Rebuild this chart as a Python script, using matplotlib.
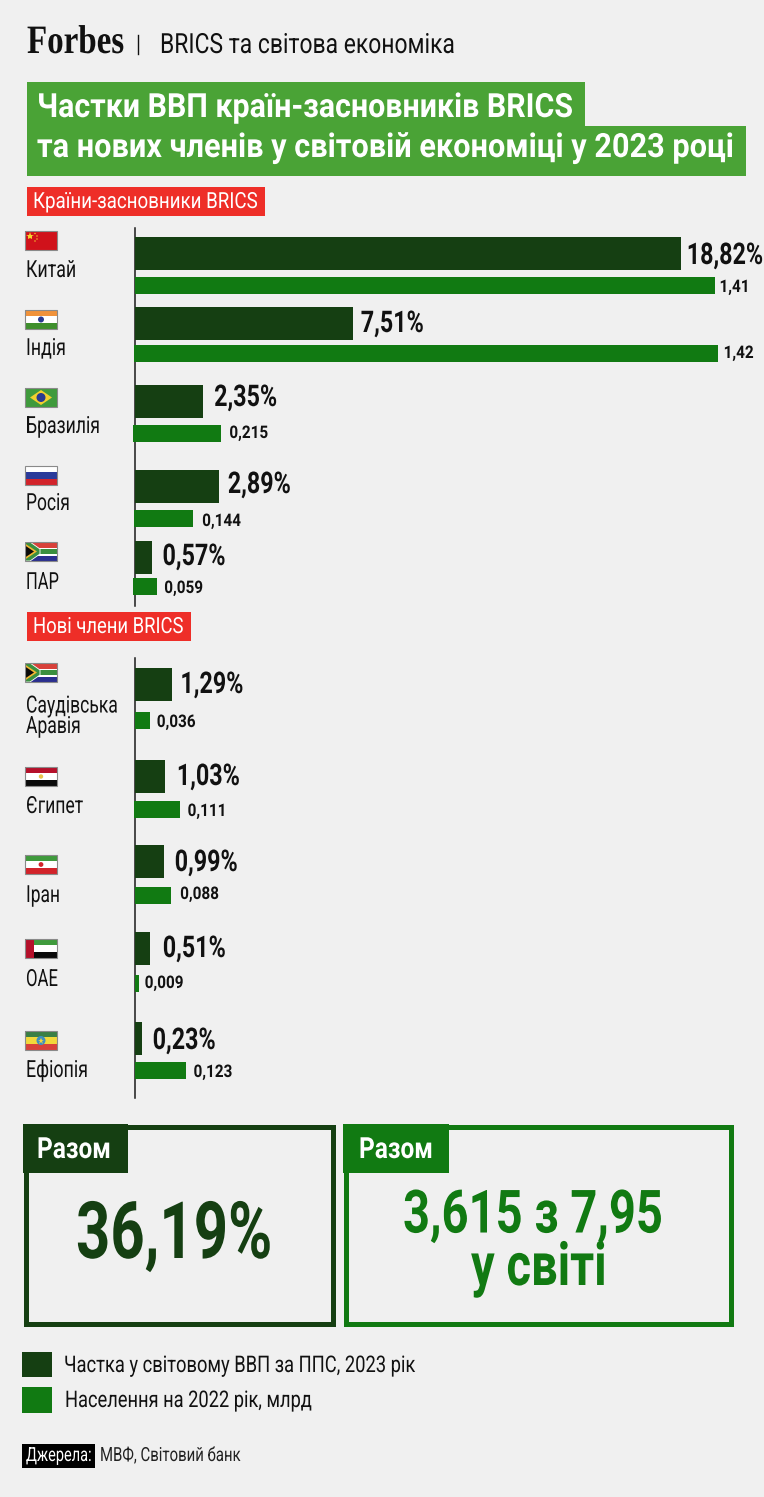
import matplotlib
matplotlib.use('Agg')
import matplotlib.pyplot as plt
import matplotlib.patheffects as pe
from matplotlib.patches import Rectangle, Polygon, Circle
from matplotlib.transforms import Affine2D

plt.rcParams['font.family'] = ['Roboto', 'DejaVu Sans']

# Values
founders = ['Китай', 'Індія', 'Бразилія', 'Росія', 'ПАР']
new_members = ['Саудівська\nАравія', 'Єгипет', 'Іран', 'ОАЕ', 'Ефіопія']
gdp_share = [18.82, 7.51, 2.35, 2.89, 0.57, 1.29, 1.03, 0.99, 0.51, 0.23]
population = [1.41, 1.42, 0.215, 0.144, 0.059, 0.036, 0.111, 0.088, 0.009, 0.123]
population_labels = ['1,41', '1,42', '0,215', '0,144', '0,059', '0,036', '0,111', '0,088', '0,009', '0,123']

# Layout in pixels, one entry per country
dark_top = [237, 307, 385, 470, 541, 668, 760, 845, 932, 1022]
green_top = [277, 345, 425, 510, 578, 712, 801, 887, 975, 1062]
green_nudge = [0, -1, -2, -1, -2, 0, -1, 0, 0, 0]
gdp_label_gap = [6, 8, 11, 9, 11, 8, 12, 11, 13, 11]
gdp_label_y = [264, 332, 406, 493, 565, 693, 785, 871, 957, 1049]
pop_label_gap = [5, 5, 6, 8, 5, 7, 7, 9, 6, 8]
pop_label_y = [292, 358, 438, 526, 593, 727, 816, 899, 988, 1077]
name_y = [277, 355, 433, 510, 589, 733, 813, 902, 986, 1077]
flag_top = [231, 310, 388, 466, 542, 663, 767, 855, 939, 1031]

W, H = 764, 1497
BG = '#f0f0f0'
DARK = '#153f12'
GREEN = '#117a12'
TITLE = '#4aa336'
RED = '#ee2e28'
INK = '#111111'
AXIS_X = 135
GDP_PX = 29
POP_PX = 411

fig = plt.figure(figsize=(W / 100, H / 100), dpi=100, facecolor=BG)
ax = fig.add_axes([0, 0, 1, 1])
ax.set_xlim(0, W)
ax.set_ylim(H, 0)
ax.axis('off')
renderer = fig.canvas.get_renderer()


class Squeeze(pe.AbstractPathEffect):
    # no condensed font here, so narrow the glyph outlines around an anchor
    def __init__(self, x0, sx):
        super().__init__()
        self.squeeze = Affine2D().translate(-x0, 0).scale(sx, 1).translate(x0, 0)

    def draw_path(self, renderer, gc, tpath, affine, rgbFace=None):
        renderer.draw_path(gc, tpath, affine + self.squeeze, rgbFace)


def label(x, y, s, size, x1=None, sx=0.8, weight='normal', color=INK, family=None, anchor='left', spacing=1.2):
    t = ax.text(x, y, s, fontsize=size, fontweight=weight, color=color, va='baseline', ha='left',
                multialignment='center' if anchor == 'center' else 'left', linespacing=spacing, zorder=6)
    if family:
        t.set_family(family)
    natural = t.get_window_extent(renderer).width
    if x1 is not None:
        sx = (x1 - x) / natural
    right = x + natural * sx
    at = {'left': x, 'center': (x + right) / 2, 'right': right}[anchor]
    t.set_x(at)
    t.set_ha(anchor)
    t.set_path_effects([Squeeze(at, sx)])
    return t


def box(x0, y0, x1, y1, color, z=2):
    ax.add_patch(Rectangle((x0, y0), x1 - x0, y1 - y0, fc=color, ec='none', zorder=z))


# header
label(27, 53, 'Forbes', 29, x1=124, weight='bold', family=['Liberation Serif'])
ax.plot([138, 138], [35, 54], color=INK, lw=1)
label(160, 53, 'BRICS та світова економіка', 20, x1=455)

# title
box(27, 82, 585, 127, TITLE)
box(27, 126, 746, 176, TITLE)
label(37, 117, 'Частки ВВП країн-засновників BRICS', 24, x1=573, weight='bold', color='white', anchor='center')
label(37, 157, 'та нових членів у світовій економіці у 2023 році', 24, x1=734, weight='bold', color='white', anchor='center')

# section tags
box(27, 187, 265, 216, RED)
label(33, 208, 'Країни-засновники BRICS', 16, x1=258, color='white')
box(27, 612, 191, 641, RED)
label(33, 633, 'Нові члени BRICS', 16, x1=184, color='white')

# bars, each series on its own x scale
ax_gdp = fig.add_axes([AXIS_X / W, 0, 1 - AXIS_X / W, 1], facecolor='none')
ax_gdp.set_xlim(0, (W - AXIS_X) / GDP_PX)
ax_gdp.set_ylim(H, 0)
ax_gdp.axis('off')
ax_pop = fig.add_axes([AXIS_X / W, 0, 1 - AXIS_X / W, 1], facecolor='none')
ax_pop.set_xlim(0, (W - AXIS_X) / POP_PX)
ax_pop.set_ylim(H, 0)
ax_pop.axis('off')
ax_gdp.barh(dark_top, gdp_share, height=33, align='edge', color=DARK)
ax_pop.barh(green_top, population, height=17, align='edge', color=GREEN,
            left=[n / POP_PX for n in green_nudge], clip_on=False)

for i in range(len(gdp_share)):
    end = ax_gdp.transData.transform((gdp_share[i], 0))[0]
    text = f'{gdp_share[i]:.2f}'.replace('.', ',') + '%'
    label(end + gdp_label_gap[i], gdp_label_y[i], text, 21.5, sx=0.78, weight='bold', anchor='right')
    end = ax_pop.transData.transform((population[i], 0))[0]
    label(end + pop_label_gap[i], pop_label_y[i], population_labels[i], 12.5, sx=0.88, weight='bold')

ax.plot([AXIS_X, AXIS_X], [228, 606], color='#1a1a1a', lw=1.1, zorder=5)
ax.plot([AXIS_X, AXIS_X], [658, 1098], color='#1a1a1a', lw=1.1, zorder=5)

# country names
name_width = [50, 40, 74, 44, 33, 92, 57, 34, 32, 62]
for i, name in enumerate(founders + new_members):
    label(26, name_y[i], name, 17, x1=26 + name_width[i], spacing=0.86)


# flags
FX0, FW, FH = 25, 32, 19


def stripes(top, colors, x0=FX0, w=FW):
    for k, c in enumerate(colors):
        ax.add_patch(Rectangle((x0, top + k * FH / len(colors)), w, FH / len(colors), fc=c, ec='none', zorder=3))


def frame(top):
    ax.add_patch(Rectangle((FX0, top), FW, FH, fc='none', ec='#8a8a8a', lw=0.8, zorder=5))


def dot(x, y, r, color):
    ax.add_patch(Circle((x, y), r, fc=color, ec='none', zorder=4))


def south_africa(top):
    stripes(top, ['#d8413a', '#2a2f8f'])
    ax.add_patch(Rectangle((FX0, top + 5.5), FW, 8, fc='white', ec='none', zorder=3))
    ax.add_patch(Rectangle((FX0, top + 7), FW, 5, fc='#3a8f3f', ec='none', zorder=3))
    ax.add_patch(Polygon([(FX0, top), (FX0 + 5, top), (FX0 + 15, top + 7), (FX0 + 15, top + 12), (FX0 + 5, top + 19), (FX0, top + 19)],
                         fc='#3a8f3f', ec='white', lw=0.6, zorder=3))
    ax.add_patch(Polygon([(FX0, top + 1.5), (FX0 + 12, top + 9.5), (FX0, top + 17.5)], fc='#f2b632', ec='none', zorder=4))
    ax.add_patch(Polygon([(FX0, top + 3.5), (FX0 + 9, top + 9.5), (FX0, top + 15.5)], fc='#0a0a0a', ec='none', zorder=4))


t = flag_top[0]
stripes(t, ['#d0121b'])
ax.plot([FX0 + 5], [t + 5], marker='*', ms=6, color='#f6d32d', mew=0, zorder=4)
for dx, dy in [(10, 2.5), (12, 5), (12, 8), (10, 10)]:
    dot(FX0 + dx, t + dy, 0.7, '#f6d32d')

t = flag_top[1]
stripes(t, ['#f0923a', '#ffffff', '#3f8f2d'])
dot(FX0 + 16, t + 9.5, 3, '#2a3a8f')

t = flag_top[2]
stripes(t, ['#3f9a3c'])
ax.add_patch(Polygon([(FX0 + 5, t + 9.5), (FX0 + 16, t + 2), (FX0 + 27, t + 9.5), (FX0 + 16, t + 17)], fc='#f2cf2e', ec='none', zorder=4))
dot(FX0 + 16, t + 9.5, 4.5, '#2a3a8f')

t = flag_top[3]
stripes(t, ['#ffffff', '#2a3a9a', '#d2232a'])

south_africa(flag_top[4])
south_africa(flag_top[5])

t = flag_top[6]
stripes(t, ['#b5102a', '#ffffff', '#0a0a0a'])
dot(FX0 + 16, t + 9.5, 2.2, '#e8c24a')

t = flag_top[7]
stripes(t, ['#3f9a3c', '#ffffff', '#d2232a'])
dot(FX0 + 16, t + 9.5, 2.4, '#d2232a')

t = flag_top[8]
stripes(t, ['#3f9a3c', '#ffffff', '#0a0a0a'])
ax.add_patch(Rectangle((FX0, t), 9, FH, fc='#b5102a', ec='none', zorder=4))

t = flag_top[9]
stripes(t, ['#3a7f45', '#f2d83b', '#d8413a'])
dot(FX0 + 16, t + 9.5, 4.5, '#3f8fc0')
ax.plot([FX0 + 16], [t + 9.5], marker='*', ms=5, color='#f2d83b', mew=0, zorder=5)

for t in flag_top:
    frame(t)

# totals
for x0, x1, tab, c in [(23, 335, 128, DARK), (343, 733, 449, GREEN)]:
    ax.add_patch(Rectangle((x0 + 2.5, 1126.5), x1 - x0 - 5, 197, fc='none', ec=c, lw=3.6, zorder=3))
    box(x0, 1124, tab, 1173, c, z=3)
label(37, 1158, 'Разом', 21, x1=111, weight='bold', color='white')
label(359, 1158, 'Разом', 21, x1=433, weight='bold', color='white')
label(76, 1258, '36,19%', 57, x1=272, weight='bold', color=DARK)
label(403, 1285, '3,615 з 7,95\n у світі', 43, x1=663, weight='bold', color=GREEN, anchor='center', spacing=0.92)

# legend
box(22, 1352, 52, 1377, DARK)
box(22, 1387, 52, 1413, GREEN)
label(64, 1372, 'Частка у світовому ВВП за ППС, 2023 рік', 16.5, x1=414)
label(65, 1407, 'Населення на 2022 рік, млрд', 16.5, x1=311)

# source
box(22, 1444, 95, 1468, '#000000')
label(26, 1461, 'Джерела:', 14, x1=92, color='white', anchor='right')
label(100, 1461, 'МВФ, Світовий банк', 14, x1=241, color='#222222')

fig.savefig('out.png', dpi=100, facecolor=BG)
